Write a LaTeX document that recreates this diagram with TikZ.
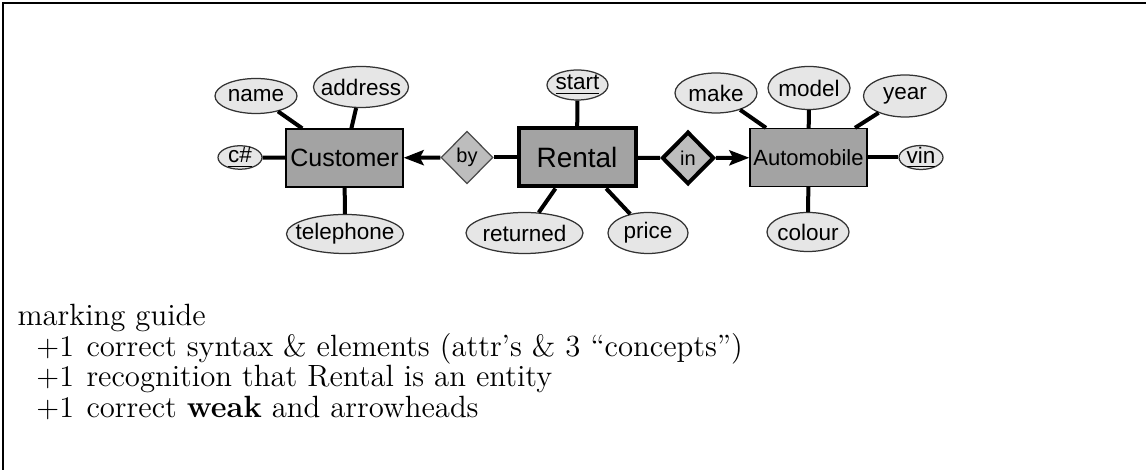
\documentclass[tikz,border=0pt]{standalone}
\usepackage{fontspec}
\newfontfamily\arial{Liberation Sans}
\usetikzlibrary{shapes.geometric,arrows.meta}
\definecolor{entfill}{HTML}{A3A3A3}
\definecolor{relfill}{HTML}{BDBDBD}
\definecolor{attfill}{HTML}{E6E6E6}
\tikzset{
  attr/.style={ellipse,draw=black!80,line width=0.5pt,fill=attfill,inner sep=0pt},
  atxt/.style={inner sep=0pt,font=\arial\fontsize{9}{10}\selectfont},
  ent/.style={rectangle,draw=black,line width=0.5pt,fill=entfill,inner sep=0pt,minimum width=46.8pt,minimum height=23.2pt},
  rel/.style={diamond,draw=black!70,line width=0.5pt,fill=relfill,inner sep=0pt,minimum width=20.8pt,minimum height=21pt,font=\arial\fontsize{8}{9}\selectfont},
  conn/.style={line width=1.6pt},
  arr/.style={line width=1.6pt,-{Stealth[length=8pt,width=6pt,inset=1.5pt]}},
  guide/.style={anchor=base west,inner sep=0pt,font=\fontsize{12.3}{12.2}\selectfont},
}
\begin{document}
\begin{tikzpicture}[x=0.4pt,y=-0.4pt]
\useasboundingbox (0,0) rectangle (1146,470);
\draw[line width=0.5pt] (3,470) -- (3,3) -- (1146,3);

% entities
\node[ent,font=\arial\fontsize{10}{12}\selectfont] (cust) at (344.5,158) {Customer};
\node[ent,line width=1.6pt,font=\arial\fontsize{11.2}{13}\selectfont] (rent) at (577,157.5) {Rental};
\node[ent,font=\arial\fontsize{8.8}{10}\selectfont] (auto) at (808.5,157.5) {Automobile};

% relationships
\node[rel] (by) at (467,157.5) {by};
\node[rel,draw=black,line width=1.6pt] (in) at (688,158) {in};

% attributes (ellipse of fixed size, text as a centred label)
\node[attr,minimum width=17.6pt,minimum height=9.4pt,label={[atxt]center:\underline{c\#}}] (cnum) at (240,157.5) {};
\node[attr,minimum width=32.8pt,minimum height=14pt,label={[atxt]center:name}] (name) at (256,96) {};
\node[attr,minimum width=38pt,minimum height=16.4pt,label={[atxt]center:address}] (addr) at (361,87) {};
\node[attr,minimum width=46.8pt,minimum height=15.6pt,label={[atxt]center:telephone}] (tel) at (345,234) {};

\node[attr,minimum width=24.4pt,minimum height=12pt,label={[atxt]center:\underline{start}}] (start) at (577.5,85) {};
\node[attr,minimum width=46.8pt,minimum height=16.4pt,label={[atxt]center:returned}] (ret) at (524.5,233) {};
\node[attr,minimum width=32pt,minimum height=16.4pt,label={[atxt]center:price}] (price) at (648,233) {};

\node[attr,minimum width=32.8pt,minimum height=16pt,label={[atxt]center:make}] (make) at (716,93) {};
\node[attr,minimum width=32.8pt,minimum height=17.2pt,label={[atxt]center:model}] (model) at (809,88) {};
\node[attr,minimum width=33.2pt,minimum height=16.8pt,label={[atxt]center:year}] (year) at (905,96) {};
\node[attr,minimum width=17.6pt,minimum height=9.6pt,label={[atxt]center:\underline{vin}}] (vin) at (921,157.5) {};
\node[attr,minimum width=32.8pt,minimum height=15.6pt,label={[atxt]center:colour}] (col) at (808,232) {};

% connectors
\draw[conn] (cnum) -- (cust);
\draw[conn] (name) -- (cust);
\draw[conn] (addr) -- (cust);
\draw[conn] (tel) -- (cust);
\draw[arr] (by) -- (cust);
\draw[conn] (rent) -- (by);
\draw[conn] (start) -- (rent);
\draw[conn] (ret) -- (rent);
\draw[conn] (price) -- (rent);
\draw[conn] (rent) -- (in);
\draw[arr] (in) -- (auto);
\draw[conn] (make) -- (auto);
\draw[conn] (model) -- (auto);
\draw[conn] (year) -- (auto);
\draw[conn] (vin) -- (auto);
\draw[conn] (col) -- (auto);

% marking guide
\node[guide] (g0) at (17,326) {marking guide};
\node[guide] (p1) at (36,356.5) {$+1$};
\node[guide] (t1) at (86,356.5) {correct syntax \& elements (attr's \& 3 ``concepts'')};
\node[guide] (p2) at (36,387) {$+1$};
\node[guide] (t2) at (86,387) {recognition that Rental is an entity};
\node[guide] (p3) at (36,417.5) {$+1$};
\node[guide] (t3) at (86,417.5) {correct \textbf{weak} and arrowheads};
\end{tikzpicture}
\end{document}
